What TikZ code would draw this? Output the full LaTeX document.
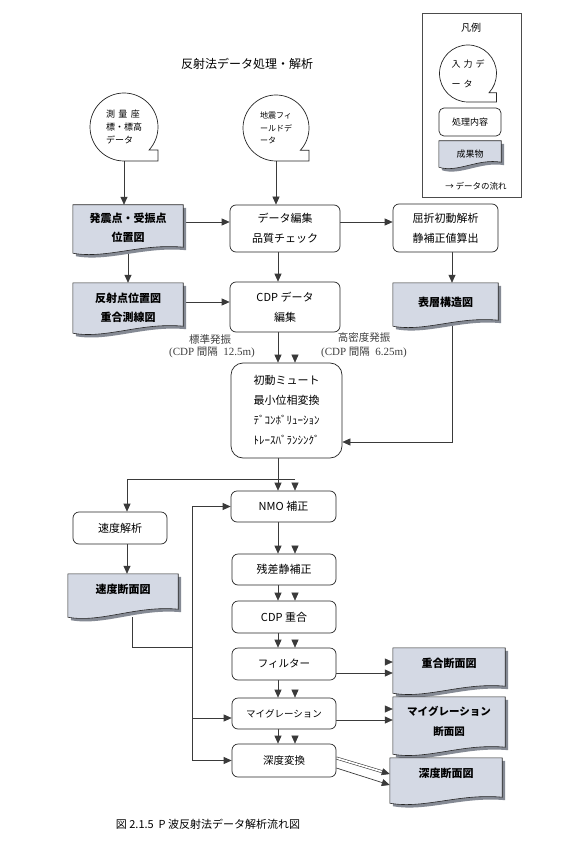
\documentclass[tikz,border=0pt]{standalone}
\usepackage{fontspec}
\setmainfont{Noto Sans CJK JP}
\newfontfamily\lserif{Liberation Serif}
\usetikzlibrary{arrows.meta,calc}
\pgfdeclarelayer{paper}
\pgfdeclarelayer{bg}
\pgfdeclarelayer{docs}
\pgfsetlayers{paper,bg,docs,main}
\definecolor{docfill}{HTML}{D4D9E4}
\definecolor{docshad}{HTML}{858A94}
\definecolor{lncol}{HTML}{3A3A3A}
\tikzset{
 proc/.style={draw=black!85, fill=white, line width=0.7pt, rounded corners=6pt, align=center, inner sep=0pt, font=\fontsize{11}{20}\selectfont},
 doc/.style={inner sep=0pt, align=center, font=\bfseries\fontsize{11}{19}\selectfont},
 tape/.style={circle, inner sep=0pt, align=left},
 arr/.style={draw=lncol, line width=0.7pt, -{Triangle[length=8pt,width=7pt]}},
 ln/.style={draw=lncol, line width=0.7pt},
 dbl/.style={draw=lncol, line width=0.6pt, double=white, double distance=1.7pt, -{Triangle[length=8pt,width=7pt]}},
 lbl/.style={text=black!75, font=\fontsize{10.5}{13}\selectfont},
}
\newcommand\docdeco[2]{%
 \begin{pgfonlayer}{docs}
 \fill[docshad] ($(#1.north west)+(3,3)$) -- ($(#1.north east)+(3,3)$) -- ($(#1.south east)+(3,3-#2)$) .. controls ($(#1.south west)!0.62!(#1.south east)+(3,3-#2-4)$) and ($(#1.south west)!0.3!(#1.south east)+(3,3+6)$) .. ($(#1.south west)+(3,3)$) -- cycle;
 \filldraw[fill=docfill,draw=black!85,line width=0.6pt] (#1.north west) -- (#1.north east) -- ($(#1.south east)+(0,-#2)$) .. controls ($(#1.south west)!0.62!(#1.south east)+(0,-#2-4)$) and ($(#1.south west)!0.3!(#1.south east)+(0,6)$) .. (#1.south west) -- cycle;
 \end{pgfonlayer}}
\newcommand\tapedeco[2]{%
 \begin{pgfonlayer}{docs}
 \filldraw[fill=white,draw=black!85,line width=0.7pt] ($(#1.center)+(0,#2)$) arc[start angle=90,end angle=402.5,radius=#2] -- ($(#1.center)+(#2,0.676*#2)$) -- ($(#1.center)+(#2,#2)$) -- cycle;
 \end{pgfonlayer}}
\begin{document}
\begin{tikzpicture}[x=1pt,y=-1pt]
\begin{pgfonlayer}{paper}
\fill[white] (0,0) rectangle (566,842);
\end{pgfonlayer}
\useasboundingbox (0,0) rectangle (566,842);
% helper coordinates
\coordinate (sx) at (278,0);
\coordinate (dx) at (295,0);
\coordinate (hx) at (452,0);
\coordinate (lx) at (127,0);
\coordinate (vx) at (132,0);
\coordinate (vl) at (192,0);
\coordinate (y222) at (0,222);
\coordinate (y302) at (0,302);
\coordinate (y442) at (0,442);
\coordinate (y479) at (0,479);
\coordinate (y647) at (0,647);
\coordinate (y662) at (0,662);
\coordinate (y673) at (0,673);
\coordinate (y709) at (0,709);
\coordinate (y718) at (0,718);
\coordinate (y720) at (0,720);
\coordinate (y758) at (0,758);
\coordinate (y768) at (0,768);
\coordinate (y774) at (0,774);
\coordinate (y785) at (0,785);

% title and caption
\node[font=\fontsize{12}{14}\selectfont] (title) at (247,64) {反射法データ処理・解析};
\node[font=\fontsize{11}{13}\selectfont] (cap) at (208,824) {図 2.1.5 \ P 波反射法データ解析流れ図};

% legend
\node[draw=black!70, line width=0.6pt, minimum width=99pt, minimum height=184pt, inner sep=0pt] (leg) at (471.5,105) {};
\node[font=\fontsize{10}{12}\selectfont] (legt) at (471,28) {凡例};
\node[tape, minimum size=57pt, font=\fontsize{9}{20}\selectfont] (legin) at (468,73.5) {入\hspace{3pt}力\hspace{3pt}デ\\ー\hspace{3pt}タ};
\node[proc, rounded corners=5pt, minimum width=62pt, minimum height=28pt, font=\fontsize{9}{11}\selectfont] (legp) at (470,122) {処理内容};
\node[doc, minimum width=62pt, minimum height=26pt, font=\fontsize{9}{11}\selectfont] (legd) at (470,154) {成果物};
\node[font=\fontsize{8.5}{10}\selectfont] (legf) at (476,186) {→ データの流れ};

% input data
\node[tape, minimum size=68pt, font=\fontsize{9}{13}\selectfont] (in1) at (124,127) {測\hspace{3.5pt}量\hspace{3.5pt}座\\標・標高\\データ};
\node[tape, minimum size=66pt, font=\fontsize{8}{12.5}\selectfont] (in2) at (276,128) {地震フィ\\ールドデ\\ータ};

% products
\node[doc, minimum width=110pt, minimum height=48pt, text depth=3pt] (hatsu) at (128,229) {発震点・受振点\\位置図};
\node[doc, minimum width=110pt, minimum height=50pt] (hansha) at (128,308) {反射点位置図\\重合測線図};
\node[doc, minimum width=105pt, minimum height=43pt, text depth=6pt] (hyoso) at (445.5,304.5) {表層構造図};
\node[doc, minimum width=110pt, minimum height=43pt, text depth=14pt] (sokudan) at (123,595.5) {速度断面図};
\node[doc, minimum width=112pt, minimum height=45pt, text depth=16pt] (jugo) at (449,670.5) {重合断面図};
\node[doc, minimum width=112pt, minimum height=57pt, text depth=10pt, font=\bfseries\fontsize{10.5}{20}\selectfont] (migdan) at (449,725.5) {マイグレーション\\断面図};
\node[doc, minimum width=112pt, minimum height=45pt, text depth=16pt] (shindan) at (446,780.5) {深度断面図};

% processes
\node[proc, minimum width=110pt, minimum height=47pt] (dq) at (285,228.5) {データ編集\\品質チェック};
\node[proc, minimum width=105pt, minimum height=48pt] (kussetsu) at (445.5,228) {屈折初動解析\\静補正値算出};
\node[proc, minimum width=110pt, minimum height=50pt] (cdpd) at (285,307) {CDP データ\\編集};
\node[proc, rounded corners=12pt, minimum width=111pt, minimum height=95pt] (shodo) at (286.5,410.5) {初動ミュート\\最小位相変換\\ﾃﾞｺﾝﾎﾞﾘｭｰｼｮﾝ\\ﾄﾚｰｽﾊﾞﾗﾝｼﾝｸﾞ};
\node[proc, minimum width=105pt, minimum height=31pt] (nmo) at (283.5,506.5) {NMO 補正};
\node[proc, minimum width=94pt, minimum height=32pt] (sokudo) at (120,528) {速度解析};
\node[proc, minimum width=104pt, minimum height=31pt] (zansa) at (284,569.5) {残差静補正};
\node[proc, minimum width=104pt, minimum height=32pt] (cdpj) at (284,617) {CDP 重合};
\node[proc, minimum width=104pt, minimum height=32pt, font=\fontsize{10.5}{12}\selectfont] (filt) at (284,664) {フィルター};
\node[proc, minimum width=104pt, minimum height=31pt, font=\fontsize{9.5}{12}\selectfont] (migr) at (284,713.5) {マイグレーション};
\node[proc, minimum width=104pt, minimum height=33pt, font=\fontsize{10.5}{12}\selectfont] (shindo) at (284,760.5) {深度変換};

% labels
\node[lbl] (l1a) at (210,340) {標準発振};
\node[lbl] (l1b) at (212,352) {{\lserif\fontsize{11}{13}\selectfont (CDP }間隔{\lserif\fontsize{11}{13}\selectfont\ \ 12.5m)}};
\node[lbl] (l2a) at (364,338) {高密度発振};
\node[lbl] (l2b) at (364,352) {{\lserif\fontsize{11}{13}\selectfont (CDP }間隔{\lserif\fontsize{11}{13}\selectfont\ \ 6.25m)}};

% decorations
\tapedeco{legin}{28.5}
\tapedeco{in1}{34}
\tapedeco{in2}{33}
\docdeco{legd}{5}
\docdeco{hatsu}{6}
\docdeco{hansha}{7}
\docdeco{hyoso}{6}
\docdeco{sokudan}{8}
\docdeco{jugo}{7}
\docdeco{migdan}{7}
\docdeco{shindan}{6}

% connectors
\begin{pgfonlayer}{bg}
\draw[arr] (in1.south) -- (in1.south |- hatsu.north);
\draw[arr] (in2.south) -- (in2.south |- dq.north);
\draw[arr] (hatsu.east |- y222) -- (dq.west |- y222);
\draw[arr] (dq.east |- y222) -- (kussetsu.west |- y222);
\draw[arr] (hatsu.south) -- (hansha.north);
\draw[arr] (dq.south -| sx) -- (cdpd.north -| sx);
\draw[arr] (kussetsu.south -| hx) -- (hyoso.north -| hx);
\draw[arr] (hansha.east |- y302) -- (cdpd.west |- y302);
\draw[arr] (hyoso.south -| hx) |- (shodo.east |- y442);
\foreach \a/\b in {cdpd/shodo, shodo/nmo, nmo/zansa, zansa/cdpj, cdpj/filt, filt/migr, migr/shindo}{
  \draw[arr] (\a.south -| sx) -- (\b.north -| sx);
  \draw[dbl] (\a.south -| dx) -- (\b.north -| dx);
}
\draw[arr] (dx |- y479) -| (sokudo.north -| lx);
\draw[arr] (sokudo.south -| lx) -- (sokudan.north -| lx);
\draw[ln] (sokudan.south -| vx) |- (vl |- y647);
\draw[ln] (vl |- nmo.west) -- (vl |- shindo.west);
\draw[arr] (vl |- nmo.west) -- (nmo.west);
\draw[arr] (vl |- y718) -- (migr.west |- y718);
\draw[arr] (vl |- shindo.west) -- (shindo.west);
\draw[dbl] (filt.east |- y662) -- (jugo.west |- y662);
\draw[arr] (filt.east |- y673) -- (jugo.west |- y673);
\draw[dbl] (migr.east |- y709) -- (migdan.west |- y709);
\draw[arr] (migr.east |- y720) -- (migdan.west |- y720);
\draw[dbl] (shindo.east |- y758) -- (shindan.west |- y774);
\draw[arr] (shindo.east |- y768) -- (shindan.west |- y785);
\end{pgfonlayer}
\end{tikzpicture}
\end{document}
